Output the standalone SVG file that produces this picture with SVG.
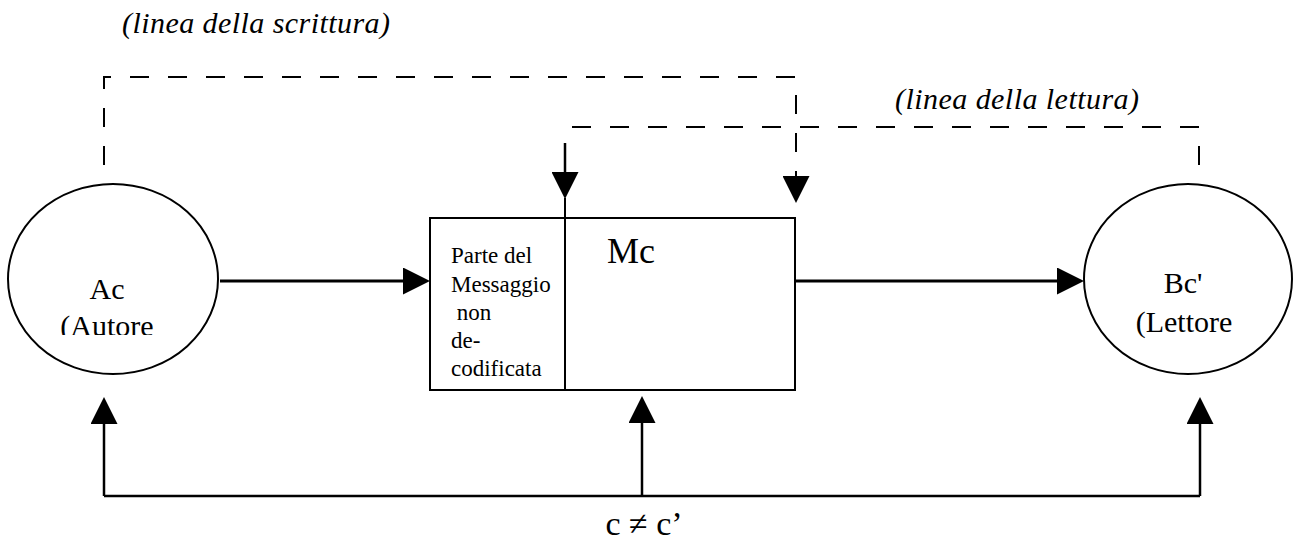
<svg xmlns="http://www.w3.org/2000/svg" width="1294" height="542" viewBox="0 0 1294 542">
<style>
  text { font-family: "Liberation Serif", "Times New Roman", serif; fill: #000; }
  .it { font-style: italic; font-size: 30px; }
  .lg { font-size: 30px; }
  .sm { font-size: 23px; }
  .shape { fill: #fff; stroke: #000; stroke-width: 2; }
  .solid { fill: none; stroke: #000; stroke-width: 2.5; }
  .thick { fill: none; stroke: #000; stroke-width: 3; }
  .dash { fill: none; stroke: #000; stroke-width: 2; stroke-dasharray: 19 19; }
</style>
<defs>
  <marker id="head" viewBox="0 0 27 27" markerWidth="27" markerHeight="27" refX="0" refY="13.5" orient="auto" markerUnits="userSpaceOnUse">
    <path d="M0,0 L27,13.5 L0,27 Z" fill="#000"/>
  </marker>
  <clipPath id="clipA"><rect x="0" y="0" width="300" height="335"/></clipPath>
</defs>
<rect width="1294" height="542" fill="#fff"/>

<g id="label-scrittura"><text class="it" x="122" y="33" textLength="268" lengthAdjust="spacing">(linea della scrittura)</text></g>
<g id="label-lettura"><text class="it" x="895" y="109" textLength="244" lengthAdjust="spacing">(linea della lettura)</text></g>

<g id="connectors">
  <path class="dash" d="M104,165 V77 H796 V176" marker-end="url(#head)"/>
  <path class="dash" d="M1199,165 V127 H565"/>
  <path class="solid" d="M565,143 V172" marker-end="url(#head)"/>
  <line class="thick" x1="220" y1="281" x2="403" y2="281" marker-end="url(#head)"/>
  <line class="thick" x1="795" y1="281" x2="1057" y2="281" marker-end="url(#head)"/>
  <line class="solid" x1="104" y1="496" x2="1200" y2="496"/>
  <line class="solid" x1="104" y1="496" x2="104" y2="424" marker-end="url(#head)"/>
  <line class="solid" x1="642" y1="496" x2="642" y2="423" marker-end="url(#head)"/>
  <line class="solid" x1="1200" y1="496" x2="1200" y2="424" marker-end="url(#head)"/>
  <text x="644" y="535" text-anchor="middle" style="font-size:34px">c ≠ c’</text>
</g>

<g id="node-A">
  <ellipse class="shape" cx="113" cy="279" rx="105" ry="95"/>
  <text class="lg" x="107" y="299" text-anchor="middle">Ac</text>
  <text class="lg" x="107" y="336" text-anchor="middle" clip-path="url(#clipA)">(Autore</text>
</g>

<g id="node-M">
  <rect class="shape" x="430" y="218" width="365" height="172"/>
  <line class="solid" x1="565" y1="198" x2="565" y2="390" style="stroke-width:2"/>
  <text x="607" y="263" style="font-size:36px">Mc</text>
  <text class="sm" x="451" y="263">Parte del</text>
  <text class="sm" x="451" y="292">Messaggio</text>
  <text class="sm" x="451" y="320" xml:space="preserve"> non</text>
  <text class="sm" x="451" y="348">de-</text>
  <text class="sm" x="451" y="376">codificata</text>
</g>

<g id="node-B">
  <ellipse class="shape" cx="1188" cy="279" rx="104" ry="95"/>
  <text class="lg" x="1183" y="293" text-anchor="middle">Bc'</text>
  <text class="lg" x="1184" y="332" text-anchor="middle">(Lettore</text>
</g>
</svg>
